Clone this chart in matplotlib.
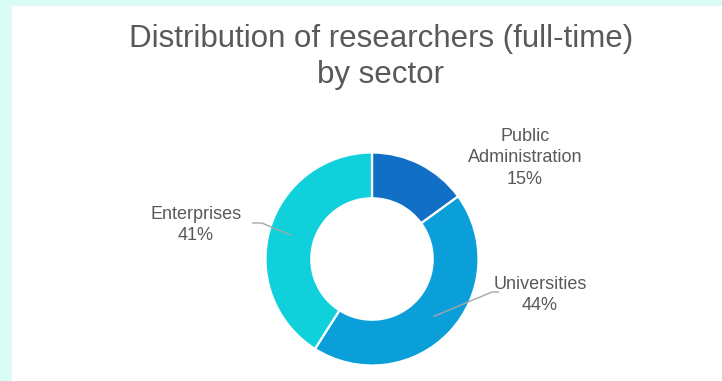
import matplotlib
matplotlib.use("Agg")
import matplotlib.pyplot as plt
import numpy as np

# Share of full-time researchers by sector (%)
sectors = ["Public\nAdministration", "Universities", "Enterprises"]
shares = [15, 44, 41]
colors = ["#1170C6", "#0A9FD9", "#0FD0DB"]

W, H = 722, 381
fig = plt.figure(figsize=(W / 100, H / 100), dpi=100)
fig.patch.set_facecolor("#DAFCF7")

# white chart panel
panel = fig.add_axes([12 / W, 0, (W - 12) / W, (H - 6) / H])
panel.set_facecolor("white")
panel.set_xticks([])
panel.set_yticks([])
for s in panel.spines.values():
    s.set_visible(False)

font = "Liberation Sans"
txt_color = "#595959"

fig.text(381 / W, 1 - 57 / H, "Distribution of researchers (full-time)\nby sector",
         ha="center", va="center", fontsize=22.5, color=txt_color,
         family=font, linespacing=1.22)

# donut
cx, cy, R = 372, 259, 106.5
ax = fig.add_axes([(cx - R) / W, (H - cy - R) / H, 2 * R / W, 2 * R / H])
wedges, _ = ax.pie(shares, colors=colors, startangle=90, counterclock=False,
                   radius=1.0, wedgeprops=dict(width=0.43, edgecolor="white", linewidth=1.6))
ax.set_xlim(-1, 1)
ax.set_ylim(-1, 1)
ax.set_aspect("auto")
ax.axis("off")


def px(x, y):
    """pixel position -> donut data coordinates"""
    return (x - cx) / R, (cy - y) / R


label_style = dict(ha="center", va="center", fontsize=13, color=txt_color,
                   family=font, linespacing=1.38, clip_on=False)

# label placement (pixel centres) and leader elbows
label_pos = [(525, 158), (540, 295), (196, 225)]
leader = [None, (499, 292, 492), (252, 223, 262)]

for w, name, val, pos, ld in zip(wedges, sectors, shares, label_pos, leader):
    ax.text(*px(*pos), f"{name}\n{val}%", **label_style)
    if ld is None:
        continue
    mid = np.deg2rad((w.theta1 + w.theta2) / 2)
    ex, ey = 0.79 * np.cos(mid), 0.79 * np.sin(mid)
    x0, y0 = px(ld[0], ld[1])
    x1, _ = px(ld[2], ld[1])
    ax.plot([x0, x1, ex], [y0, y0, ey], color="#A6A6A6", lw=1.0,
            clip_on=False, solid_capstyle="butt")

fig.savefig("out.png", dpi=100, facecolor=fig.get_facecolor())
